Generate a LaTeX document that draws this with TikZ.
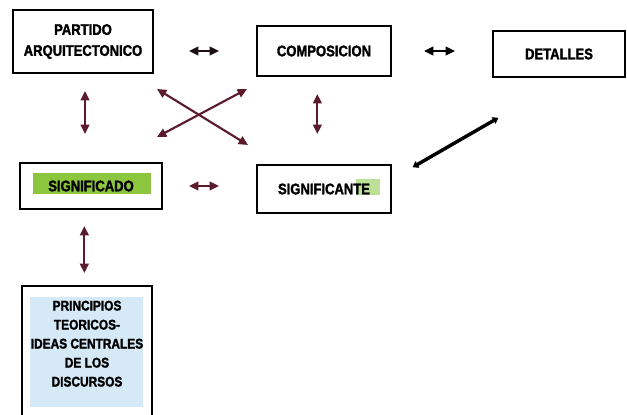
\documentclass[tikz,border=0pt]{standalone}
\usepackage{fontspec}
\setmainfont{Liberation Sans}[FakeStretch=0.85,BoldFeatures={FakeBold=1.8}]
\usetikzlibrary{arrows.meta}
\definecolor{MapMaroon}{HTML}{5B1B2C}
\definecolor{MapInk}{HTML}{1E1012}
\definecolor{MapGreen}{HTML}{8CC63F}
\definecolor{MapLeaf}{HTML}{BCE095}
\definecolor{MapSky}{HTML}{D5E9F6}
\tikzset{
  mapbox/.style={draw=black,line width=1.6pt,align=center,inner sep=0pt,
    font=\fontsize{11.5}{15.75}\selectfont\bfseries},
  maplink/.style={MapMaroon,line width=1.6pt,
    {Triangle[length=7pt,width=6.5pt]}-{Triangle[length=7pt,width=6.5pt]}},
}

\begin{document}
\begin{tikzpicture}[x=0.75pt,y=-0.75pt]
\path[use as bounding box] (0,0) rectangle (627,414);
\clip (0,0) rectangle (627,414);
\fill[white] (0,0) rectangle (627,414);
\fill[MapGreen] (33,173) rectangle (151,194);
\fill[MapLeaf] (356,179) rectangle (380,195);
\fill[MapSky] (30,297) rectangle (143,407);
\node[mapbox,minimum width=105pt,minimum height=47.25pt] (partido) at (83,41.5) {PARTIDO\\ARQUITECTONICO};
\node[mapbox,minimum width=100.5pt,minimum height=37.5pt] (composicion) at (324,51) {COMPOSICION};
\node[mapbox,minimum width=99pt,minimum height=34.5pt] (detalles) at (559,54) {DETALLES};
\node[mapbox,minimum width=106.5pt,minimum height=34.5pt] (significado) at (91,186) {SIGNIFICADO};
\node[mapbox,minimum width=100.5pt,minimum height=36pt] (significante) at (324,189) {SIGNIFICANTE};
\node[mapbox,anchor=north,minimum width=97.5pt,inner ysep=11pt,
  font=\fontsize{10.5}{14.25}\selectfont\bfseries] (principios) at (87,285)
  {PRINCIPIOS\\TEORICOS-\\IDEAS CENTRALES\\DE LOS\\DISCURSOS\\\phantom{X}\\\phantom{X}};
\coordinate (xnw) at (157,89);
\coordinate (xse) at (248,145);
\coordinate (xne) at (247,89);
\coordinate (xsw) at (157,137);
\coordinate (dlo) at (413,167);
\coordinate (dhi) at (498,118);
\draw[maplink,MapInk,shorten <=26.25pt,shorten >=27.75pt] (partido.east |- composicion.west) -- (composicion.west);
\draw[maplink,black,shorten <=24pt,shorten >=27.75pt] (composicion.east) -- (composicion.east -| detalles.west);
\draw[maplink,shorten <=12.75pt,shorten >=21pt] ([xshift=1.5pt]partido.south) -- ([xshift=1.5pt]partido.south |- significado.north);
\draw[maplink,shorten <=12.75pt,shorten >=22.5pt] ([xshift=-5pt]composicion.south) -- ([xshift=-5pt]composicion.south |- significante.north);
\draw[maplink] (xnw) -- (xse);
\draw[maplink] (xne) -- (xsw);
\draw[maplink,shorten <=19.5pt,shorten >=27.75pt] (significado.east) -- (significado.east -| significante.west);
\draw[maplink,shorten <=12pt,shorten >=9pt] ([xshift=-2pt]principios.north |- significado.south) -- ([xshift=-2pt]principios.north);
\draw[black,line width=2.6pt,{Stealth[round,length=5pt,width=7pt]}-{Stealth[round,length=5pt,width=7pt]}] (dlo) -- (dhi);
\end{tikzpicture}
\end{document}
